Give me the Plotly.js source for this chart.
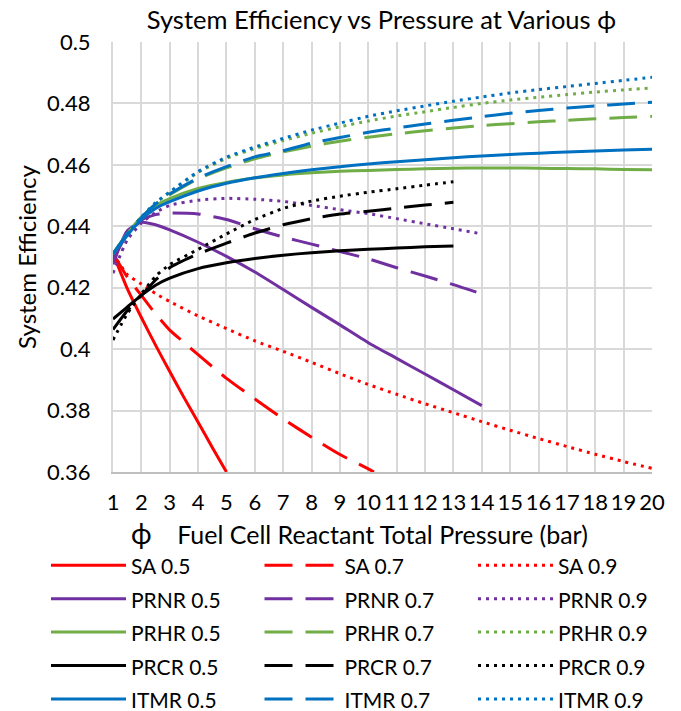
<!DOCTYPE html>
<html><head><meta charset="utf-8">
<script src="https://cdn.plot.ly/plotly-3.0.1.min.js"></script>
<style>html,body{margin:0;padding:0;background:#fff}</style>
</head><body><div id="chart" style="width:681px;height:711px"></div>
<script>
// ---- data ----
const pressureFull = [1,1.5,2,2.5,3,4,5,6,7,8,9,10,11,12,13,14,15,16,17,18,19,20];
const pressureTo14 = [1,1.5,2,2.5,3,4,5,6,7,8,9,10,11,12,13,14];
const pressureTo13 = [1,1.5,2,2.5,3,4,5,6,7,8,9,10,11,12,13];
const pressureSA05 = [1,1.5,2,2.5,3,3.5,4,4.5,5];
const pressureSA07 = [1,1.5,2,2.5,3,3.5,4,4.5,5,6,7,8,9,10,10.2];

const SA_05 = [0.4312,0.4198,0.4103,0.4013,0.3927,0.3843,0.3762,0.368,0.3600];
const SA_07 = [0.4312,0.4235,0.4175,0.4115,0.4062,0.4022,0.3982,0.3943,0.3905,0.3838,0.3773,0.3713,0.3657,0.3610,0.3600];
const SA_09 = [0.4312,0.4243,0.4212,0.4181,0.4155,0.4108,0.4067,0.4027,0.3993,0.3957,0.392,0.3885,0.3853,0.3822,0.3793,0.3764,0.3736,0.3709,0.3683,0.3658,0.3634,0.3612];

const PRNR_05 = [0.4276,0.4385,0.4413,0.4405,0.4388,0.4348,0.4302,0.4251,0.4194,0.4136,0.4079,0.4021,0.397,0.3919,0.3868,0.3816];
const PRNR_07 = [0.429,0.4375,0.442,0.4438,0.4443,0.444,0.4422,0.4392,0.4365,0.4342,0.4318,0.4294,0.4265,0.4238,0.421,0.418];
const PRNR_09 = [0.4247,0.4355,0.441,0.4445,0.4468,0.4485,0.4491,0.4488,0.4481,0.4468,0.4454,0.4441,0.4425,0.4408,0.4392,0.4375];

const PRHR_05 = [0.431,0.4375,0.443,0.4467,0.449,0.4523,0.4543,0.4557,0.4567,0.4574,0.4579,0.4582,0.4585,0.4587,0.4589,0.459,0.459,0.4589,0.4588,0.4587,0.4585,0.4584];
const PRHR_07 = [0.431,0.4375,0.4428,0.4472,0.4503,0.4555,0.459,0.462,0.4642,0.4661,0.4677,0.469,0.4701,0.4711,0.472,0.4728,0.4734,0.474,0.4745,0.475,0.4754,0.4758];
const PRHR_09 = [0.431,0.4375,0.4428,0.4475,0.451,0.4575,0.4621,0.4653,0.4679,0.4703,0.4724,0.4743,0.4759,0.4773,0.4787,0.48,0.4811,0.482,0.4829,0.4837,0.4844,0.485];

const PRCR_05 = [0.4098,0.4137,0.4175,0.4208,0.4231,0.4262,0.4281,0.4295,0.4306,0.4314,0.432,0.4325,0.4329,0.4333,0.4336];
const PRCR_07 = [0.4064,0.4125,0.4175,0.4225,0.4265,0.431,0.4345,0.4378,0.4405,0.4425,0.444,0.4449,0.4459,0.4469,0.4478];
const PRCR_09 = [0.403,0.4115,0.418,0.4237,0.4275,0.4325,0.4375,0.4422,0.4458,0.4482,0.4498,0.4511,0.4522,0.4534,0.4545];

const ITMR_05 = [0.431,0.437,0.4422,0.4458,0.448,0.4515,0.454,0.4558,0.4572,0.4584,0.4594,0.4603,0.461,0.4617,0.4623,0.4629,0.4634,0.4638,0.4642,0.4645,0.4648,0.4651];
const ITMR_07 = [0.431,0.4375,0.4428,0.4472,0.4505,0.4557,0.4594,0.4626,0.4646,0.4671,0.4689,0.4706,0.472,0.4733,0.4745,0.4757,0.4768,0.4777,0.4785,0.4792,0.4798,0.4804];
const ITMR_09 = [0.431,0.4375,0.443,0.4477,0.4512,0.4578,0.4625,0.4658,0.4686,0.4713,0.4736,0.4758,0.4776,0.4792,0.4807,0.4821,0.4834,0.4845,0.4855,0.4865,0.4875,0.4885];

const xTicks = [1,2,3,4,5,6,7,8,9,10,11,12,13,14,15,16,17,18,19,20];
const yTicks = [0.36,0.38,0.40,0.42,0.44,0.46,0.48,0.5];
const yTickText = ['0.36','0.38','0.4','0.42','0.44','0.46','0.48','0.5'];

// ---- styles ----
const colors = {SA:'#FF0000', PRNR:'#7030A0', PRHR:'#70AD47', PRCR:'#000000', ITMR:'#0070C0'};
const dashes = {'0.5':'solid', '0.7':'28px,13px', '0.9':'3px,5px'};

function tr(name, group, phi, x, y){
  return {x:x, y:y, name:'<span style="font-size:21px">'+name+'</span>', type:'scatter', mode:'lines',
    line:{color:colors[group], width:3, dash:dashes[phi], shape:'spline', smoothing:0.6},
    hoverinfo:'skip'};
}

const traces = [
  tr('SA 0.5','SA','0.5',pressureSA05,SA_05),
  tr('SA 0.7','SA','0.7',pressureSA07,SA_07),
  tr('SA 0.9','SA','0.9',pressureFull,SA_09),
  tr('PRNR 0.5','PRNR','0.5',pressureTo14,PRNR_05),
  tr('PRNR 0.7','PRNR','0.7',pressureTo14,PRNR_07),
  tr('PRNR 0.9','PRNR','0.9',pressureTo14,PRNR_09),
  tr('PRHR 0.5','PRHR','0.5',pressureFull,PRHR_05),
  tr('PRHR 0.7','PRHR','0.7',pressureFull,PRHR_07),
  tr('PRHR 0.9','PRHR','0.9',pressureFull,PRHR_09),
  tr('PRCR 0.5','PRCR','0.5',pressureTo13,PRCR_05),
  tr('PRCR 0.7','PRCR','0.7',pressureTo13,PRCR_07),
  tr('PRCR 0.9','PRCR','0.9',pressureTo13,PRCR_09),
  tr('ITMR 0.5','ITMR','0.5',pressureFull,ITMR_05),
  tr('ITMR 0.7','ITMR','0.7',pressureFull,ITMR_07),
  tr('ITMR 0.9','ITMR','0.9',pressureFull,ITMR_09)
];

const FONT = 'Lato, "Open Sans", sans-serif';

const layout = {
  width:681, height:711,
  margin:{l:113, r:29, t:42, b:239, autoexpand:false},
  paper_bgcolor:'#fff', plot_bgcolor:'#fff',
  font:{family:FONT, size:22, color:'#000'},
  title:{text:'System Efficiency vs Pressure at Various ϕ', font:{family:FONT, size:25.5, color:'#000'},
         x:0.56, xanchor:'center', y:0.972, yanchor:'middle'},
  xaxis:{range:[1,20], tickvals:xTicks, ticktext:xTicks.map(String), showgrid:true, gridcolor:'#D9D9D9', gridwidth:2,
         showline:true, linecolor:'#BFBFBF', linewidth:2, zeroline:false, ticks:'', ticklen:0,
         tickfont:{family:FONT, size:22, color:'#000'}, tickangle:0, ticklabelstandoff:10,
         title:{text:'Fuel Cell Reactant Total Pressure (bar)', font:{family:FONT, size:25, color:'#000'}, standoff:12}},
  yaxis:{range:[0.36,0.5], tickvals:yTicks, ticktext:yTickText, showgrid:true, gridcolor:'#D9D9D9', gridwidth:2,
         showline:true, linecolor:'#D9D9D9', linewidth:2, zeroline:false, ticks:'', ticklen:0,
         tickfont:{family:FONT, size:22, color:'#000'}, ticklabelstandoff:16,
         title:{text:'System Efficiency', font:{family:FONT, size:24, color:'#000'}, standoff:4}},
  showlegend:true,
  legend:{orientation:'h', x:-0.1243, xanchor:'left', y:-0.1663, yanchor:'top',
          entrywidth:123.5, entrywidthmode:'pixels', itemwidth:75,
          font:{family:FONT, size:23.4, color:'#000'}, bgcolor:'rgba(0,0,0,0)', traceorder:'normal'},
  annotations:[{text:'ϕ', xref:'paper', yref:'paper', x:(141-113)/539, y:-(533-472)/430, xanchor:'center', yanchor:'middle',
                showarrow:false, font:{family:FONT, size:28, color:'#000'}}]
};

Plotly.newPlot('chart', traces, layout, {displayModeBar:false, staticPlot:true});
</script>
</body></html>
